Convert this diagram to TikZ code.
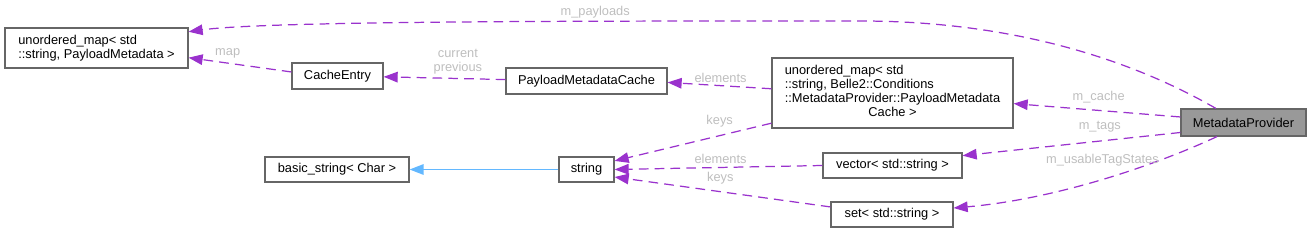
\documentclass[tikz,border=0pt]{standalone}
\usepackage{fontspec}
\setmainfont{Liberation Sans}
\usetikzlibrary{arrows.meta,positioning}
\definecolor{edgepurple}{HTML}{9A32CD}
\definecolor{inheritblue}{HTML}{63B8FF}
\definecolor{boxgray}{HTML}{666666}
\definecolor{mainfill}{HTML}{999999}
\definecolor{labelgray}{HTML}{BEBEBE}
\tikzset{
  % kotak kelas biasa
  cls/.style={draw=boxgray, line width=0.7pt, fill=white, inner sep=2pt,
              minimum height=0.52cm, align=left, font=\fontsize{7.3}{8}\selectfont},
  % kelas yang sedang dibahas (abu-abu)
  clsmain/.style={cls, fill=mainfill},
  % relasi pemakaian (member) dan pewarisan
  usage/.style={edgepurple, line width=0.7pt, dash pattern=on 5.5pt off 3.5pt,
                -{Triangle[length=8pt,width=6pt]}},
  inherit/.style={inheritblue, line width=0.8pt, -{Triangle[length=8pt,width=6pt]}},
  lbl/.style={font=\fontsize{7.3}{8}\selectfont, labelgray, inner sep=0pt, align=center},
}

\begin{document}
\begin{tikzpicture}[x=0.02cm, y=0.02cm]
\useasboundingbox (0,0) rectangle (1311,233);

% =================== KELAS ===================
\node[cls, minimum width=3.66cm, minimum height=0.8cm] (payloads) at (96.5,185)
  {unordered\_map< std\\::string, PayloadMetadata >};
\node[cls, minimum width=1.82cm] (cacheentry) at (337.5,157) {CacheEntry};
\node[cls, minimum width=3.22cm] (pmcache) at (586.5,152) {PayloadMetadataCache};
\node[cls, minimum width=4.82cm, minimum height=1.4cm] (cachemap) at (892.5,140)
  {\begin{tabular}{@{}l@{}}unordered\_map< std\\ ::string, Belle2::Conditions\\
   ::MetadataProvider::PayloadMetadata\\ \multicolumn{1}{@{}c@{}}{Cache >}\end{tabular}};
\node[clsmain, minimum width=2.5cm, minimum height=0.54cm] (provider) at (1243.5,110.5) {MetadataProvider};
\node[cls, minimum width=2.88cm, minimum height=0.5cm] (basicstr) at (337,63.5) {basic\_string< Char >};
\node[cls, minimum width=1.1cm, minimum height=0.5cm] (string) at (586.5,63.5) {string};
\node[cls, minimum width=2.78cm, minimum height=0.5cm] (vector) at (892.5,67.5) {vector< std::string >};
\node[cls, minimum width=2.44cm, minimum height=0.5cm] (set) at (892,18.5) {set< std::string >};

% titik belok kurva m_payloads
\coordinate (ptop) at (860,212);

% =================== RELASI ===================
% member dari MetadataProvider
\draw[usage] (provider.153) to[out=150,in=0,out distance=2cm,in distance=3cm] (ptop)
  to[out=180,in=8,out distance=5cm,in distance=1.6cm]
  node[lbl,pos=0.33,above=1.5pt]{m\_payloads} (payloads.10);
\draw[usage] (provider.175) -- node[lbl,pos=0.49,above=4pt]{m\_cache} (cachemap.355);
\draw[usage] (provider.189) -- node[lbl,pos=0.37,above=4.5pt]{m\_tags} (vector.8);
\draw[usage] (provider.208) to[out=205,in=5,out distance=1.3cm,in distance=2.1cm]
  node[lbl,pos=0.5,above=7pt]{m\_usableTagStates} (set.6);

% isi container
\draw[usage] (cachemap.178) -- node[lbl,pos=0.49,above=1.6pt]{elements} (pmcache.359);
\draw[usage] (cachemap.194) -- node[lbl,pos=0.33,above=4.4pt]{keys} (string.17);
\draw[usage] (vector.west) -- node[lbl,pos=0.49,above=1.6pt]{elements} (string.east);
\draw[usage] (set.173) -- node[lbl,pos=0.51,above=4.1pt]{keys} (string.345);
\draw[usage] (pmcache.179) -- node[lbl,pos=0.39,above=2pt]{current\\previous} (cacheentry.359);
\draw[usage] (cacheentry.175) -- node[lbl,pos=0.62,above=2.6pt]{map} (payloads.354);

% pewarisan
\draw[inherit] (string.west) -- (basicstr.east);

\end{tikzpicture}
\end{document}
